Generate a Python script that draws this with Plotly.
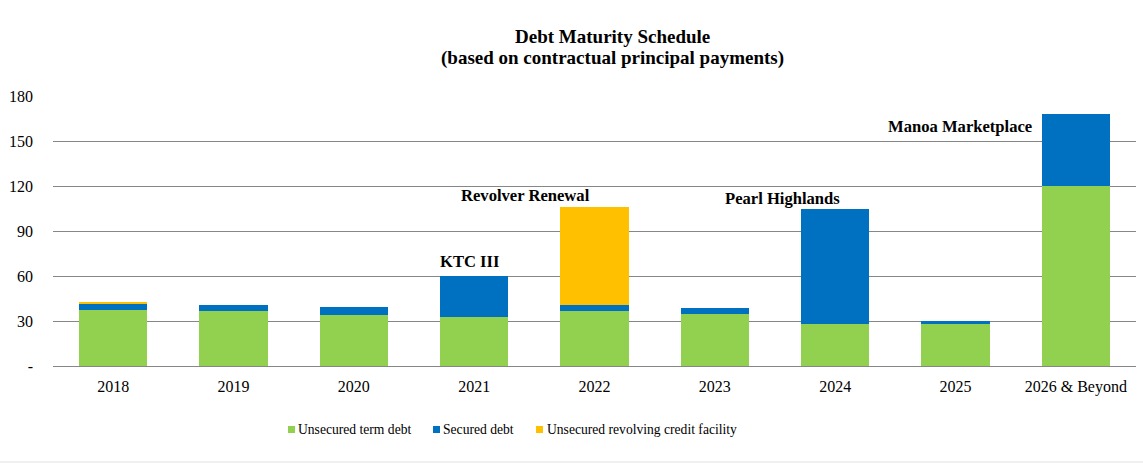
import plotly.graph_objects as go

categories = ["2018", "2019", "2020", "2021", "2022", "2023", "2024", "2025", "2026 & Beyond"]
unsecured_term = [37.5, 36.7, 34, 33, 37, 35, 28, 28, 120]
secured = [4, 4, 5.3, 27, 3.8, 4, 76.7, 2, 48]
revolver = [1.3, 0, 0, 0, 65.5, 0, 0, 0, 0]

series_names = ["Unsecured term debt", "Secured debt", "Unsecured revolving credit facility"]
series_colors = ["#92D050", "#0070C0", "#FFC000"]

y_ticks = [0, 30, 60, 90, 120, 150, 180]
y_tick_text = ["-", "30", "60", "90", "120", "150", "180"]

notes = ["KTC III", "Revolver Renewal", "Pearl Highlands", "Manoa Marketplace"]
note_x = [2.96, 3.43, 5.56, 7.04]
note_y = [70, 113.5, 112, 159.5]

FONT = "Liberation Serif"
W, H = 1143, 463
L, R, T, B = 53, 7, 96, 97
PW, PH = W - L - R, H - T - B


def px_x(p):
    return (p - L) / PW


def px_y(p):
    return (H - B - p) / PH


fig = go.Figure()
for vals, nm, col in zip([unsecured_term, secured, revolver], series_names, series_colors):
    fig.add_bar(x=categories, y=vals, name=nm, marker_color=col, marker_line_width=0, showlegend=False)

for t, xv, yv in zip(notes, note_x, note_y):
    fig.add_annotation(x=xv, y=yv, xref="x", yref="y", text="<b>%s</b>" % t, showarrow=False,
                       font=dict(family=FONT, size=16.6, color="black"))

# title lines
for txt, yc in [("Debt Maturity Schedule", 37), ("(based on contractual principal payments)", 58)]:
    fig.add_annotation(x=px_x(612), y=px_y(yc), xref="paper", yref="paper", text="<b>%s</b>" % txt,
                       showarrow=False, xanchor="center", yanchor="middle",
                       font=dict(family=FONT, size=19, color="black"))

# manual legend
leg_sq = [288, 433, 536]
leg_txt = [296, 441, 545]
for nm, col, sx, tx in zip(series_names, series_colors, leg_sq, leg_txt):
    fig.add_shape(type="rect", xref="paper", yref="paper", x0=px_x(sx), x1=px_x(sx + 7),
                  y0=px_y(433), y1=px_y(426), fillcolor=col, line_width=0)
    fig.add_annotation(x=px_x(tx), y=px_y(429), xref="paper", yref="paper", text=nm,
                       showarrow=False, xanchor="left", yanchor="middle",
                       font=dict(family=FONT, size=13.6, color="black"))

fig.update_layout(
    width=W, height=H,
    margin=dict(l=L, r=R, t=T, b=B),
    barmode="stack", bargap=0.43,
    paper_bgcolor="white", plot_bgcolor="white",
    font=dict(family=FONT, size=16, color="black"),
    showlegend=False,
    xaxis=dict(type="category", showgrid=False, showline=False, ticks="", ticklabelstandoff=9,
               tickfont=dict(family=FONT, size=16)),
    yaxis=dict(range=[0, 180], tickvals=y_ticks, ticktext=y_tick_text, showgrid=True,
               gridcolor="#878787", gridwidth=1, zeroline=True, zerolinecolor="#878787",
               zerolinewidth=1, showline=False, ticks="", ticklabelstandoff=19,
               tickfont=dict(family=FONT, size=16)),
)

fig.add_shape(type="rect", xref="paper", yref="paper", x0=px_x(0), x1=px_x(W),
              y0=px_y(H), y1=px_y(461), fillcolor="#f0f0f0", line_width=0, layer="below")

fig.write_html("out.html")
